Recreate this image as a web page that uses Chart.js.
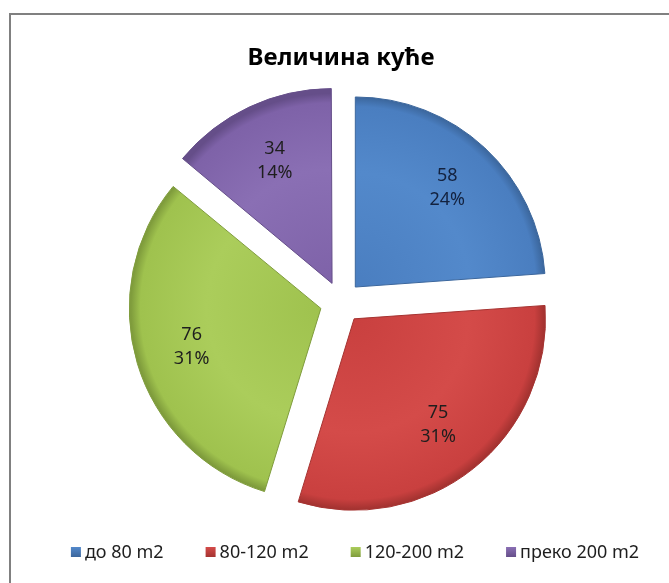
<!DOCTYPE html>
<html>
<head>
<meta charset="utf-8">
<script src="https://cdn.jsdelivr.net/npm/chart.js@4/dist/chart.umd.min.js"></script>
<style>
  html, body { margin: 0; padding: 0; background: #fff; overflow: hidden; }
  #wrap { position: relative; width: 669px; height: 583px; }
  #frame { position: absolute; left: 9px; top: 13px; width: 700px; height: 600px;
           border-top: 2px solid #808080; border-left: 2px solid #808080; pointer-events: none; }
  canvas { position: absolute; left: 0; top: 0; }
</style>
</head>
<body>
<div id="wrap">
  <canvas id="pie" width="669" height="583"></canvas>
  <div id="frame"></div>
</div>
<script>
const categories = ['до 80 m2', '80-120 m2', '120-200 m2', 'преко 200 m2'];
const values = [58, 75, 76, 34];
const baseColors = ['#4a7ec0', '#c9403f', '#9fc24e', '#7e62a8'];
const lightColors = ['#5389cb', '#d44b49', '#abcd5b', '#8a6fb4'];
const edgeColors = ['#3b669c', '#a53331', '#7f9c3c', '#654e89'];

const FONT = "'Noto Sans', 'DejaVu Sans', sans-serif";
const RADIUS = 190;
const OFFSET = 84; // Chart.js moves an arc by offset/4

function sliceFill(ctx) {
  const chart = ctx.chart;
  const i = ctx.dataIndex;
  const area = chart.chartArea;
  if (!area || i === undefined) return baseColors[i || 0];
  const cx = (area.left + area.right) / 2;
  const cy = (area.top + area.bottom) / 2;
  const g = chart.ctx.createRadialGradient(cx, cy, 0, cx, cy, RADIUS);
  g.addColorStop(0, baseColors[i]);
  g.addColorStop(0.6, lightColors[i]);
  g.addColorStop(0.95, baseColors[i]);
  g.addColorStop(1, edgeColors[i]);
  return g;
}

// value + percent labels inside each slice
const sliceLabels = {
  id: 'sliceLabels',
  afterDatasetsDraw(chart) {
    const meta = chart.getDatasetMeta(0);
    const total = values.reduce((a, b) => a + b, 0);
    const c = chart.ctx;
    c.save();
    c.font = '18px ' + FONT;
    c.textAlign = 'center';
    c.textBaseline = 'middle';
    meta.data.forEach((arc, i) => {
      const mid = (arc.startAngle + arc.endAngle) / 2;
      const shift = OFFSET / 4;
      const r = arc.outerRadius * 0.71;
      const x = arc.x + Math.cos(mid) * (shift + r);
      const y = arc.y + Math.sin(mid) * (shift + r);
      c.fillStyle = i === 0 ? '#13223f' : '#1e1e1e';
      c.fillText(String(values[i]), x, y - 12);
      c.fillText(Math.round(values[i] / total * 100) + '%', x, y + 12);
    });
    c.restore();
  }
};

// legend row under the pie
const bottomLegend = {
  id: 'bottomLegend',
  afterDraw(chart) {
    const c = chart.ctx;
    c.save();
    c.font = '18px ' + FONT;
    c.textBaseline = 'middle';
    const box = 10, gapBox = 4, gapItem = 42;
    const widths = categories.map(t => c.measureText(t).width);
    const full = widths.reduce((a, w) => a + box + gapBox + w, 0) + gapItem * (categories.length - 1);
    let x = 355 - full / 2;
    const y = 552;
    categories.forEach((t, i) => {
      const g = c.createLinearGradient(0, y - box / 2, 0, y + box / 2);
      g.addColorStop(0, lightColors[i]);
      g.addColorStop(1, edgeColors[i]);
      c.fillStyle = g;
      c.fillRect(x, y - box / 2, box, box);
      c.fillStyle = '#1e1e1e';
      c.fillText(t, x + box + gapBox, y + 1);
      x += box + gapBox + widths[i] + gapItem;
    });
    c.restore();
  }
};

new Chart(document.getElementById('pie'), {
  type: 'pie',
  data: {
    labels: categories,
    datasets: [{
      data: values,
      backgroundColor: sliceFill,
      borderColor: edgeColors,
      borderWidth: 1,
      offset: OFFSET,
      hoverOffset: OFFSET,
      radius: RADIUS
    }]
  },
  options: {
    responsive: false,
    animation: false,
    events: [],
    layout: { padding: { left: 13, right: 0, top: 14, bottom: 59 } },
    plugins: {
      legend: { display: false },
      tooltip: { enabled: false },
      title: {
        display: true,
        text: 'Величина куће',
        color: '#000',
        font: { family: FONT, size: 24, weight: 'bold', lineHeight: 1.2 },
        padding: { top: 30, bottom: 8 }
      }
    }
  },
  plugins: [sliceLabels, bottomLegend]
});
</script>
</body>
</html>
